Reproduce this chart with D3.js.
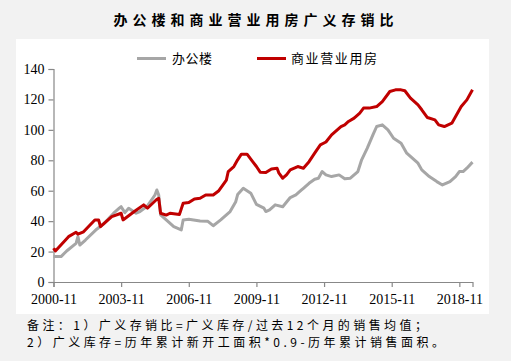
<!DOCTYPE html>
<html>
<head>
<meta charset="utf-8">
<script src="https://cdn.jsdelivr.net/npm/d3@7"></script>
<style>
  html, body { margin: 0; padding: 0; background: #f2f2f2; }
  svg { display: block; }
</style>
</head>
<body>
<svg id="chart" width="511" height="361"></svg>
<script>
// month strings and values
const officeMonths = ["2000-11","2001-03","2001-06","2001-11","2001-12","2002-01","2002-04","2002-10","2003-02","2003-07","2003-10","2003-11","2004-01","2004-03","2004-07","2004-09","2005-01","2005-05","2005-06","2005-07","2005-08","2005-11","2006-03","2006-07","2006-08","2006-11","2007-05","2007-09","2007-12","2008-04","2008-09","2008-12","2009-01","2009-04","2009-08","2009-11","2010-03","2010-04","2010-06","2010-09","2011-01","2011-05","2011-08","2011-11","2011-12","2012-03","2012-06","2012-08","2012-10","2012-12","2013-03","2013-07","2013-10","2014-01","2014-05","2014-07","2014-10","2015-01","2015-03","2015-06","2015-09","2015-12","2016-04","2016-07","2016-10","2017-01","2017-03","2017-07","2017-11","2018-02","2018-06","2018-09","2018-11","2019-01","2019-03","2019-06"];
const officeValues = [16.7,16.7,20.4,25.4,29.8,24.3,27.6,34.7,38.6,45.2,48.5,49.5,45.6,48.5,45.2,46.3,50,57.2,60.5,57.2,44.1,40.8,36.4,34.2,40.8,41.2,40.1,40,37,40.8,46.3,52.8,57.5,61.6,58.4,51,48.5,46.3,47.4,50.7,49.5,55.5,57.2,60.5,61.6,64.9,67.5,68.2,72.6,70.4,69.3,70.4,67.8,68.2,72.6,80.3,88,96.7,102.2,103.3,100,94.5,91.2,84.7,81.4,78.1,73.7,69.3,66,63.8,66,69.3,72.6,72.6,74.8,78.8];

const retailMonths = ["2000-11","2000-12","2001-07","2001-11","2001-12","2002-03","2002-09","2002-11","2002-12","2003-06","2003-11","2003-12","2004-06","2004-11","2005-01","2005-06","2005-07","2005-08","2005-11","2006-01","2006-06","2006-08","2006-11","2007-02","2007-05","2007-08","2007-12","2008-03","2008-07","2008-08","2008-11","2009-01","2009-03","2009-06","2009-09","2009-11","2010-01","2010-04","2010-07","2010-10","2010-11","2011-01","2011-03","2011-05","2011-09","2011-12","2012-03","2012-06","2012-09","2012-12","2013-03","2013-08","2013-10","2013-12","2014-03","2014-06","2014-08","2014-11","2015-03","2015-06","2015-10","2016-01","2016-04","2016-06","2016-09","2017-01","2017-03","2017-06","2017-10","2017-12","2018-03","2018-07","2018-09","2018-12","2019-03","2019-06"];
const retailValues = [22.2,20.4,29.8,32.7,31.4,33,40.8,40.8,36.4,43,45.2,40.8,46.3,50.7,48.5,54.4,55,45.2,44,45.2,44.3,51.8,52.2,54.6,55,57.2,57.2,60,67,72.6,75.9,80.3,84,84,79.1,75.9,72.2,71.9,74.3,74.8,71.5,68.2,70.4,73.7,75.9,74.8,79.1,84.7,90.1,92,96.7,102.2,103.3,105.5,107.7,111,114.3,114.3,115.3,118.6,125.2,126.3,126.3,125.7,120.8,116.4,113.2,108.1,106.6,103.3,102.2,104.4,108.7,115.3,119.7,126.3];

const seriesNames = ["办公楼", "商业营业用房"];
const xTickLabels = ["2000-11","2003-11","2006-11","2009-11","2012-11","2015-11","2018-11"];
const yTickValues = [0, 20, 40, 60, 80, 100, 120, 140];

const title = "办公楼和商业营业用房广义存销比";
const notes = [
  "备注：1）广义存销比=广义库存/过去12个月的销售均值；",
  "2）广义库存=历年累计新开工面积*0.9-历年累计销售面积。"
];

const cjk = "'Noto Sans CJK SC', sans-serif";
const serif = "'Liberation Serif', 'Times New Roman', serif";

// months counted from 2000-11
function monthIndex(s) {
  const [y, m] = s.split("-").map(Number);
  return (y - 2000) * 12 + (m - 11);
}

const svg = d3.select("#chart");

svg.append("rect")
  .attr("x", 16).attr("y", 39)
  .attr("width", 473).attr("height", 275)
  .attr("fill", "#fff");

svg.append("text")
  .attr("x", 113.5).attr("y", 25)
  .attr("textLength", 280).attr("lengthAdjust", "spacing")
  .attr("font-family", cjk).attr("font-size", 14).attr("font-weight", "bold")
  .attr("fill", "#000")
  .text(title);

const x = d3.scaleLinear()
  .domain([0, monthIndex("2019-06")])
  .range([53.5, 472.5]);

const y = d3.scaleLinear()
  .domain([0, 140])
  .range([282, 69]);

const axisColor = "#888";

const yAxis = svg.append("g")
  .attr("transform", "translate(53.5,0)")
  .call(d3.axisLeft(y).tickValues(yTickValues).tickSize(5).tickPadding(4));

const xAxis = svg.append("g")
  .attr("transform", "translate(0,282)")
  .call(d3.axisBottom(x)
    .tickValues(xTickLabels.map(monthIndex))
    .tickFormat((d, i) => xTickLabels[i])
    .tickSize(5).tickPadding(7));

[yAxis, xAxis].forEach(g => {
  g.select(".domain").attr("stroke", axisColor).attr("stroke-width", 1.2);
  g.selectAll(".tick line").attr("stroke", axisColor).attr("stroke-width", 1.2);
  g.selectAll("text")
    .attr("font-family", serif).attr("font-size", 14).attr("fill", "#000");
});

const line = d3.line()
  .x(d => x(monthIndex(d[0])))
  .y(d => y(d[1]));

const series = [
  { months: officeMonths, values: officeValues, color: "#a6a6a6" },
  { months: retailMonths, values: retailValues, color: "#c00000" }
];

series.forEach(s => {
  svg.append("path")
    .datum(s.months.map((m, i) => [m, s.values[i]]))
    .attr("d", line)
    .attr("fill", "none")
    .attr("stroke", s.color)
    .attr("stroke-width", 3)
    .attr("stroke-linejoin", "round");
});

// legend
const legendPos = [
  { x1: 137, tx: 172, len: 40 },
  { x1: 257, tx: 291, len: 86 }
];
series.forEach((s, i) => {
  const p = legendPos[i];
  svg.append("line")
    .attr("x1", p.x1).attr("x2", p.x1 + 29)
    .attr("y1", 58.5).attr("y2", 58.5)
    .attr("stroke", s.color).attr("stroke-width", 3);
  svg.append("text")
    .attr("x", p.tx).attr("y", 63)
    .attr("textLength", p.len).attr("lengthAdjust", "spacing")
    .attr("font-family", cjk).attr("font-size", 13).attr("fill", "#000")
    .text(seriesNames[i]);
});

// notes under the chart
const noteLen = [400, 417];
notes.forEach((t, i) => {
  svg.append("text")
    .attr("x", 27).attr("y", 330 + i * 17)
    .attr("textLength", noteLen[i]).attr("lengthAdjust", "spacing")
    .attr("font-family", cjk).attr("font-size", 12).attr("fill", "#000")
    .text(t);
});
</script>
</body>
</html>
